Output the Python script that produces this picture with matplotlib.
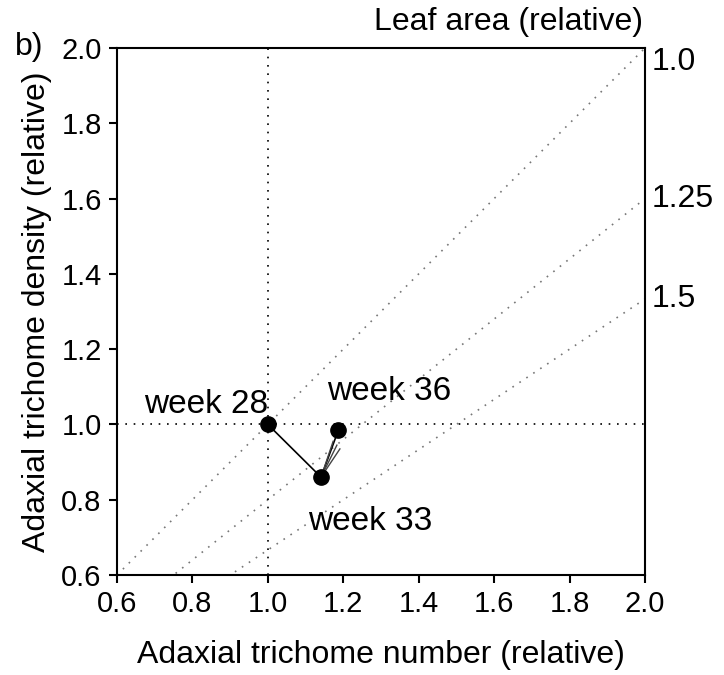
import numpy as np
import matplotlib
matplotlib.use("Agg")
from matplotlib import pyplot as plt

plt.rcParams['font.family'] = ['Liberation Sans', 'DejaVu Sans']

# relative values per sampling week
weeks = ["week 28", "week 33", "week 36"]
tric_number = [1.0, 1.141, 1.187]
tric_density = [1.0, 0.860, 0.985]

# iso-lines of leaf area: density = number / area
leaf_areas = [1.0, 1.25, 1.5]
area_labels = ["1.0", "1.25", "1.5"]

ticks = [0.6, 0.8, 1.0, 1.2, 1.4, 1.6, 1.8, 2.0]

fig = plt.figure(figsize=(7.24, 6.75), dpi=100)
ax = fig.add_axes([0.1616, 0.1481, 0.7293, 0.7808])

xs = np.linspace(0.6, 2.0, 50)
for a in leaf_areas:
    ax.plot(xs, xs / a, ls=(0, (1, 4)), color='#777777', lw=1.2)

ax.axvline(1.0, ls=(0, (1, 4)), color='black', lw=1.2)
ax.axhline(1.0, ls=(0, (1, 4)), color='black', lw=1.2)

ax.plot(tric_number, tric_density, color='black', lw=1.2)
# arrow-like fan between week 33 and week 36
for dx, dy in [(-0.014, -0.03), (-0.004, -0.04), (0.004, -0.05)]:
    ax.plot([tric_number[1], tric_number[2] + dx],
            [tric_density[1], tric_density[2] + dy], color='#444444', lw=1.0)
ax.plot(tric_number, tric_density, 'o', color='black', ms=11, zorder=5)

fs = 23
wfs = 24
ax.annotate(weeks[0], (tric_number[0], tric_density[0]), xytext=(0, 8),
            textcoords='offset points', fontsize=wfs, ha='right', va='baseline')
ax.annotate(weeks[1], (tric_number[1], tric_density[1]), xytext=(-9.5, -38),
            textcoords='offset points', fontsize=wfs, ha='left', va='baseline')
ax.annotate(weeks[2], (tric_number[2], tric_density[2]), xytext=(-8.5, 21.5),
            textcoords='offset points', fontsize=wfs, ha='left', va='baseline')

for a, lab in zip(leaf_areas, area_labels):
    off = -10 if a == 1.0 else 0
    ax.annotate(lab, (2.0, 2.0 / a), xytext=(5, off), textcoords='offset points',
                fontsize=fs, va='center', ha='left', annotation_clip=False)

ax.set_xlim(0.6, 2.0)
ax.set_ylim(0.6, 2.0)
ax.set_xticks(ticks)
ax.set_yticks(ticks)
ax.set_xticklabels([f"{t:.1f}" for t in ticks])
ax.set_yticklabels([f"{t:.1f}" for t in ticks])
ax.tick_params(direction='out', length=6, width=1.5, labelsize=21, pad=5)
for s in ax.spines.values():
    s.set_linewidth(1.5)

ax.set_xlabel("Adaxial trichome number (relative)", fontsize=fs)
ax.set_ylabel("Adaxial trichome density (relative)", fontsize=fs)
ax.xaxis.set_label_coords(0.5, -0.123)
ax.yaxis.set_label_coords(-0.123, 0.5)

fig.text(0.888, 0.968, "Leaf area (relative)", fontsize=fs, ha='right', va='center')
fig.text(0.02, 0.93, "b)", fontsize=fs, ha='left', va='center')

fig.savefig("out.png", dpi=100)
